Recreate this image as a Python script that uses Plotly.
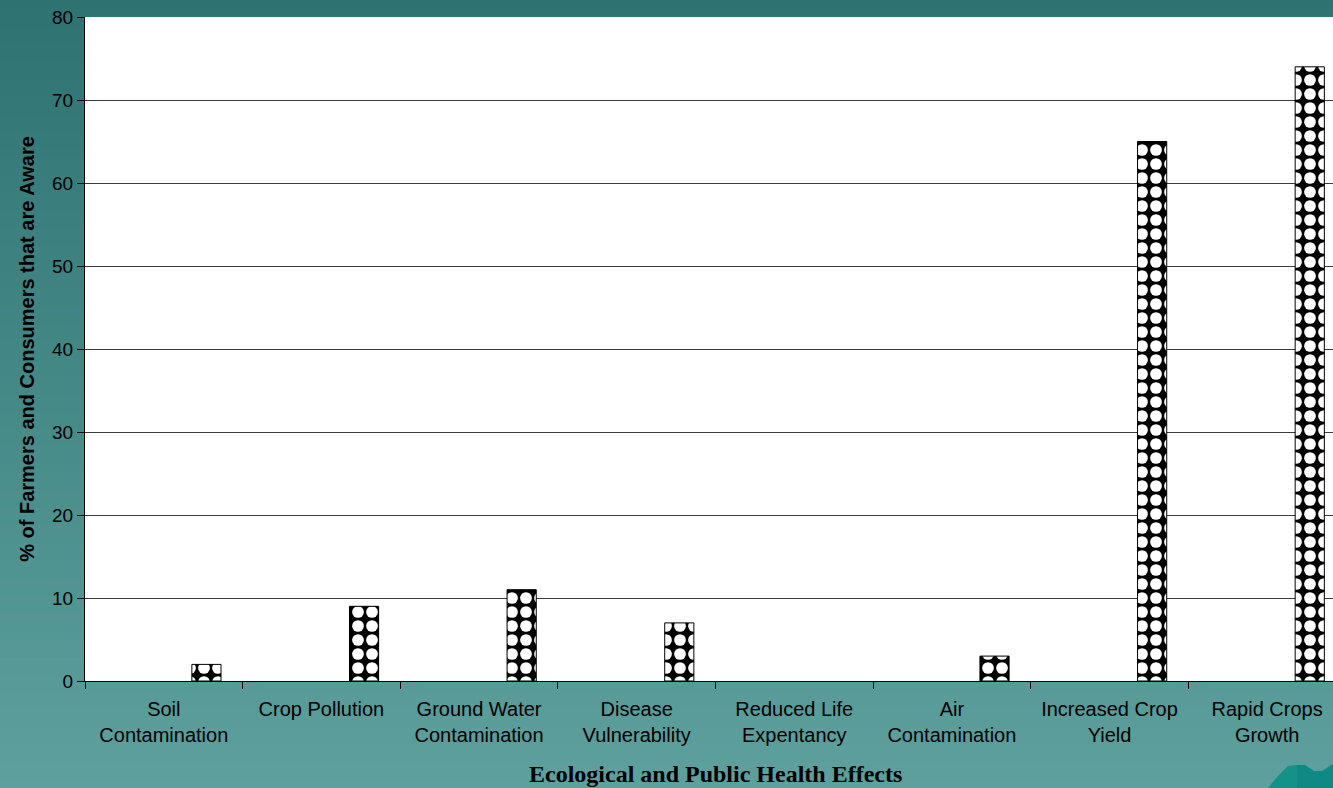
import plotly.graph_objects as go

# Survey results: awareness of each effect among farmers and consumers (%)
categories = [
    "Soil<br>Contamination",
    "Crop Pollution",
    "Ground Water<br>Contamination",
    "Disease<br>Vulnerability",
    "Reduced Life<br>Expentancy",
    "Air<br>Contamination",
    "Increased Crop<br>Yield",
    "Rapid Crops<br>Growth",
]
aware_pct = [2, 9, 11, 7, 0, 3, 65, 74]

y_ticks = [0, 10, 20, 30, 40, 50, 60, 70, 80]

W, H = 1333, 788
M_L, M_R, M_T, M_B = 85, 0, 17, 107
plot_w = W - M_L - M_R
plot_h = H - M_T - M_B


def px_x(px):
    return (px - M_L) / plot_w


def px_y(py):
    return (H - M_B - py) / plot_h


fig = go.Figure()

# Outline only where a bar has height
outline_w = [1 if v > 0 else 0 for v in aware_pct]

fig.add_trace(go.Bar(
    x=categories,
    y=aware_pct,
    offset=0.178,
    width=0.185,
    marker=dict(
        color="black",
        line=dict(color="black", width=outline_w),
        pattern=dict(
            shape=".",
            fillmode="replace",
            bgcolor="black",
            fgcolor="white",
            size=14,
            solidity=0.55,
        ),
    ),
    showlegend=False,
    hoverinfo="x+y",
))

# Vertical teal gradient behind the whole figure
shapes = []
top_rgb = (46, 115, 114)
bot_rgb = (93, 160, 157)
n_bands = 90
for i in range(n_bands):
    t = i / (n_bands - 1)
    r = round(top_rgb[0] + (bot_rgb[0] - top_rgb[0]) * t)
    g = round(top_rgb[1] + (bot_rgb[1] - top_rgb[1]) * t)
    b = round(top_rgb[2] + (bot_rgb[2] - top_rgb[2]) * t)
    y0 = H * i / n_bands
    y1 = H * (i + 1) / n_bands + 1
    shapes.append(dict(
        type="rect", xref="paper", yref="paper", layer="below",
        x0=px_x(0), x1=px_x(W), y0=px_y(y1), y1=px_y(y0),
        fillcolor=f"rgb({r},{g},{b})", line=dict(width=0),
    ))

# White plotting area
shapes.append(dict(
    type="rect", xref="paper", yref="paper", layer="below",
    x0=0, x1=1, y0=0, y1=1, fillcolor="white", line=dict(width=0),
))

# Small wave ornament in the lower right corner
wave_left = [(1268, 788), (1278, 776), (1288, 766), (1297, 765), (1297, 788)]
wave_right = [(1297, 765), (1305, 765), (1314, 771), (1322, 771), (1333, 764), (1333, 788), (1297, 788)]
for pts, col in ((wave_left, "#149189"), (wave_right, "#0f8983")):
    path = "M " + " L ".join(f"{px_x(a)},{px_y(b)}" for a, b in pts) + " Z"
    shapes.append(dict(
        type="path", xref="paper", yref="paper", layer="above",
        path=path, fillcolor=col, line=dict(width=0),
    ))

# Category-axis title, centred under the full (partly clipped) category band
annotations = [dict(
    text="<b>Ecological and Public Health Effects</b>",
    xref="paper", yref="paper",
    x=px_x(715), y=px_y(774),
    xanchor="center", yanchor="middle",
    showarrow=False,
    font=dict(family="Liberation Serif, Times New Roman, serif", size=24, color="black"),
)]

fig.update_layout(
    width=W,
    height=H,
    margin=dict(l=M_L, r=M_R, t=M_T, b=M_B, pad=0),
    paper_bgcolor="rgb(70,138,136)",
    plot_bgcolor="white",
    shapes=shapes,
    annotations=annotations,
    font=dict(family="Liberation Sans, Arial, sans-serif", color="black"),
    xaxis=dict(
        type="category",
        range=[-0.5, 7.418],
        tickson="boundaries",
        ticks="outside",
        ticklen=7,
        tickcolor="black",
        tickwidth=1,
        showline=True,
        linecolor="black",
        linewidth=1,
        showgrid=False,
        tickfont=dict(size=20),
        ticklabelstandoff=10,
    ),
    yaxis=dict(
        range=[0, 80],
        tickvals=y_ticks,
        ticks="outside",
        ticklen=7,
        tickcolor="black",
        tickwidth=1,
        showline=True,
        linecolor="black",
        linewidth=1,
        showgrid=True,
        gridcolor="#3a3a3a",
        gridwidth=1,
        zeroline=False,
        tickfont=dict(size=19),
        title=dict(
            text="<b>% of Farmers and Consumers that are Aware</b>",
            font=dict(size=20),
            standoff=12,
        ),
    ),
)

fig.write_html("out.html")
